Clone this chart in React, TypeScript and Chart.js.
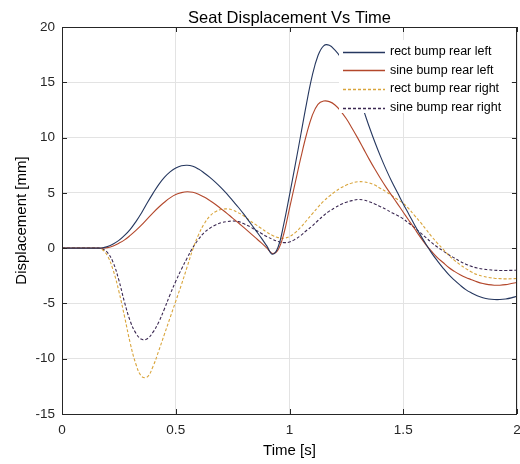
import React, { useEffect, useRef } from "react";
import { Chart, registerables } from "chart.js";

Chart.register(...registerables);

const times = [
  0, 0.025, 0.05, 0.075, 0.1, 0.125, 0.15, 0.175, 0.2, 0.225,
  0.25, 0.275, 0.3, 0.325, 0.35, 0.375, 0.4, 0.425, 0.45, 0.475,
  0.5, 0.525, 0.55, 0.575, 0.6, 0.625, 0.65, 0.675, 0.7, 0.725,
  0.75, 0.775, 0.8, 0.825, 0.85, 0.875, 0.9, 0.925, 0.95, 0.975,
  1.0, 1.025, 1.05, 1.075, 1.1, 1.125, 1.15, 1.175, 1.2, 1.225,
  1.25, 1.275, 1.3, 1.325, 1.35, 1.375, 1.4, 1.425, 1.45, 1.475,
  1.5, 1.525, 1.55, 1.575, 1.6, 1.625, 1.65, 1.675, 1.7, 1.725,
  1.75, 1.775, 1.8, 1.825, 1.85, 1.875, 1.9, 1.925, 1.95, 1.975,
  2.0,
];

const rectBumpRearLeft = [
  0, 0, 0, 0, 0, 0, 0, 0.02, 0.15, 0.38,
  0.7, 1.15, 1.7, 2.4, 3.2, 4.1, 4.95, 5.75, 6.4, 6.9,
  7.25, 7.45, 7.5, 7.4, 7.15, 6.8, 6.4, 5.95, 5.45, 4.9,
  4.3, 3.7, 3.05, 2.35, 1.65, 0.95, 0.2, -0.55, 0.1, 2.2,
  4.8, 7.5, 10.3, 13.1, 15.6, 17.4, 18.3, 18.35, 17.9, 17.25,
  16.35, 15.3, 13.9, 12.5, 11.0, 9.6, 8.3, 7.1, 6.0, 5.0,
  4.0, 3.05, 2.1, 1.2, 0.35, -0.45, -1.15, -1.8, -2.4, -2.9,
  -3.35, -3.75, -4.05, -4.3, -4.48, -4.6, -4.65, -4.65, -4.6, -4.5,
  -4.35,
];

const sineBumpRearLeft = [
  0, 0, 0, 0, 0, 0, 0, 0, 0.05, 0.2,
  0.45, 0.75, 1.15, 1.6, 2.1, 2.65, 3.2, 3.7, 4.15, 4.55,
  4.85, 5.02, 5.1, 5.05, 4.88, 4.62, 4.3, 3.95, 3.55, 3.15,
  2.72, 2.3, 1.85, 1.4, 0.95, 0.5, 0.02, -0.48, -0.15, 1.3,
  3.6, 5.9, 8.2, 10.3, 12.0, 13.0, 13.3, 13.25, 12.95, 12.4,
  11.7, 10.85, 9.95, 9.0, 8.05, 7.15, 6.3, 5.5, 4.75, 4.0,
  3.25, 2.5, 1.75, 1.0, 0.3, -0.3, -0.85, -1.3, -1.75, -2.1,
  -2.4, -2.65, -2.85, -3.05, -3.2, -3.3, -3.35, -3.35, -3.3, -3.2,
  -3.1,
];

const rectBumpRearRight = [
  0, 0, 0, 0, 0, 0, 0, -0.1, -0.7, -2.0,
  -3.9, -6.2, -8.6, -10.5, -11.6, -11.65, -10.7, -9.3, -7.8, -6.3,
  -4.8, -3.3, -1.7, -0.1, 1.2, 2.2, 2.9, 3.3, 3.5, 3.55,
  3.45, 3.2, 2.9, 2.5, 2.15, 1.8, 1.45, 1.15, 0.95, 0.9,
  1.05, 1.4, 1.9, 2.5, 3.1, 3.7, 4.25, 4.7, 5.1, 5.45,
  5.7, 5.9, 6.0, 6.0, 5.9, 5.7, 5.4, 5.1, 4.75, 4.4,
  4.05, 3.55, 2.95, 2.35, 1.7, 1.05, 0.45, -0.1, -0.65, -1.1,
  -1.5, -1.85, -2.15, -2.4, -2.55, -2.65, -2.72, -2.76, -2.78, -2.77,
  -2.74,
];

const sineBumpRearRight = [
  0, 0, 0, 0, 0, 0, 0, -0.05, -0.4, -1.3,
  -2.9, -4.9, -6.6, -7.7, -8.25, -8.2, -7.6, -6.7, -5.5, -4.2,
  -3.0, -1.9, -0.9, 0.05, 0.8, 1.4, 1.8, 2.1, 2.3, 2.4,
  2.45, 2.4, 2.2, 1.95, 1.65, 1.35, 1.05, 0.8, 0.6, 0.5,
  0.55, 0.8, 1.15, 1.6, 2.0, 2.5, 2.95, 3.35, 3.65, 3.95,
  4.15, 4.3, 4.4, 4.35, 4.2, 4.0, 3.75, 3.5, 3.2, 2.95,
  2.65, 2.25, 1.85, 1.4, 0.95, 0.5, 0.1, -0.25, -0.6, -0.9,
  -1.2, -1.45, -1.65, -1.8, -1.9, -1.95, -2.0, -2.02, -2.02, -2.01,
  -2.0,
];

const seriesNames = [
  "rect bump rear left",
  "sine bump rear left",
  "rect bump rear right",
  "sine bump rear right",
];

const xTicks = [0, 0.5, 1, 1.5, 2];
const yTicks = [-15, -10, -5, 0, 5, 10, 15, 20];

const FONT = "'Liberation Sans', Arial, Helvetica, sans-serif";

const toPoints = (vals: number[]) => vals.map((v, i) => ({ x: times[i], y: v }));

const decorPlugin = {
  id: "decor",
  afterDatasetsDraw(chart: any) {
    const { ctx, chartArea } = chart;
    const { top, right } = chartArea;
    const boxL = right - 178;
    const boxR = right - 6;
    const boxT = top + 13;
    const boxB = top + 86;
    ctx.save();
    ctx.fillStyle = "#ffffff";
    ctx.fillRect(boxL, boxT, boxR - boxL, boxB - boxT);
    const ds = chart.data.datasets;
    ctx.font = `12.5px ${FONT}`;
    ctx.textBaseline = "middle";
    ctx.textAlign = "left";
    for (let i = 0; i < ds.length; i++) {
      const y = top + 24.5 + i * 18.7;
      ctx.beginPath();
      ctx.strokeStyle = ds[i].borderColor;
      ctx.lineWidth = 1.3;
      ctx.setLineDash(ds[i].borderDash || []);
      ctx.moveTo(right - 174, Math.round(y) + 0.5);
      ctx.lineTo(right - 132, Math.round(y) + 0.5);
      ctx.stroke();
      ctx.setLineDash([]);
      ctx.fillStyle = "#000000";
      ctx.fillText(ds[i].label, right - 127, y);
    }
    ctx.restore();
  },
  afterDraw(chart: any) {
    const { ctx, chartArea, scales } = chart;
    const { left, right, top, bottom } = chartArea;
    ctx.save();
    ctx.strokeStyle = "#262626";
    ctx.lineWidth = 1;
    ctx.strokeRect(Math.round(left) + 0.5, Math.round(top) + 0.5, Math.round(right - left) - 1, Math.round(bottom - top));
    ctx.beginPath();
    const tl = 5;
    for (const v of xTicks) {
      const px = Math.round(scales.x.getPixelForValue(v)) + 0.5;
      ctx.moveTo(px, bottom);
      ctx.lineTo(px, bottom - tl);
      ctx.moveTo(px, top);
      ctx.lineTo(px, top + tl);
    }
    for (const v of yTicks) {
      const py = Math.round(scales.y.getPixelForValue(v)) + 0.5;
      ctx.moveTo(left, py);
      ctx.lineTo(left + tl, py);
      ctx.moveTo(right, py);
      ctx.lineTo(right - tl, py);
    }
    ctx.stroke();
    ctx.fillStyle = "#000000";
    ctx.font = `16.5px ${FONT}`;
    ctx.textAlign = "center";
    ctx.textBaseline = "alphabetic";
    ctx.fillText("Seat Displacement Vs Time", (left + right) / 2, 23);
    ctx.restore();
  },
};

export default function App() {
  const ref = useRef<HTMLCanvasElement>(null);

  useEffect(() => {
    if (!ref.current) return;
    Chart.defaults.font.family = FONT;
    const colors = ["#25375f", "#b3472b", "#d9a53c", "#3b2852"];
    const dashes = [[], [], [3, 2], [3, 2]];
    const values = [rectBumpRearLeft, sineBumpRearLeft, rectBumpRearRight, sineBumpRearRight];
    const chart = new Chart(ref.current, {
      type: "line",
      data: {
        datasets: values.map((vals, i) => ({
          label: seriesNames[i],
          data: toPoints(vals),
          borderColor: colors[i],
          backgroundColor: colors[i],
          borderWidth: 1.1,
          borderDash: dashes[i],
          pointRadius: 0,
          fill: false,
          tension: 0.4,
        })),
      },
      options: {
        responsive: false,
        animation: false,
        layout: { padding: { top: 27, right: 3, left: 0, bottom: 0 } },
        plugins: {
          legend: { display: false },
          title: { display: false },
          tooltip: { enabled: false },
        },
        scales: {
          x: {
            type: "linear",
            min: 0,
            max: 2,
            afterFit: (s: any) => {
              s.height = 50;
              s.paddingLeft = 0;
              s.paddingRight = 0;
            },
            afterBuildTicks: (s: any) => {
              s.ticks = xTicks.map((v) => ({ value: v }));
            },
            ticks: {
              color: "#262626",
              font: { size: 13.5 },
              padding: 8,
              maxRotation: 0,
              callback: (v: any) => String(v),
            },
            grid: { color: "#e3e3e3", drawTicks: false },
            border: { display: false },
            title: {
              display: true,
              text: "Time [s]",
              color: "#000000",
              font: { size: 15 },
              padding: { top: 0, bottom: 4 },
            },
          },
          y: {
            type: "linear",
            min: -15,
            max: 20,
            afterFit: (s: any) => {
              s.width = 62;
              s.paddingTop = 0;
              s.paddingBottom = 0;
            },
            afterBuildTicks: (s: any) => {
              s.ticks = yTicks.map((v) => ({ value: v }));
            },
            ticks: {
              color: "#262626",
              font: { size: 13.5 },
              padding: 7,
              callback: (v: any) => String(v),
            },
            grid: { color: "#e3e3e3", drawTicks: false },
            border: { display: false },
            title: {
              display: true,
              text: "Displacement [mm]",
              color: "#000000",
              font: { size: 15 },
              padding: { top: 13, bottom: 0 },
            },
          },
        },
      },
      plugins: [decorPlugin],
    });
    return () => chart.destroy();
  }, []);

  return (
    <div style={{ position: "fixed", left: 0, top: 0, width: 520, height: 464, background: "#fff" }}>
      <canvas ref={ref} width={520} height={464} style={{ width: 520, height: 464, display: "block" }} />
    </div>
  );
}
